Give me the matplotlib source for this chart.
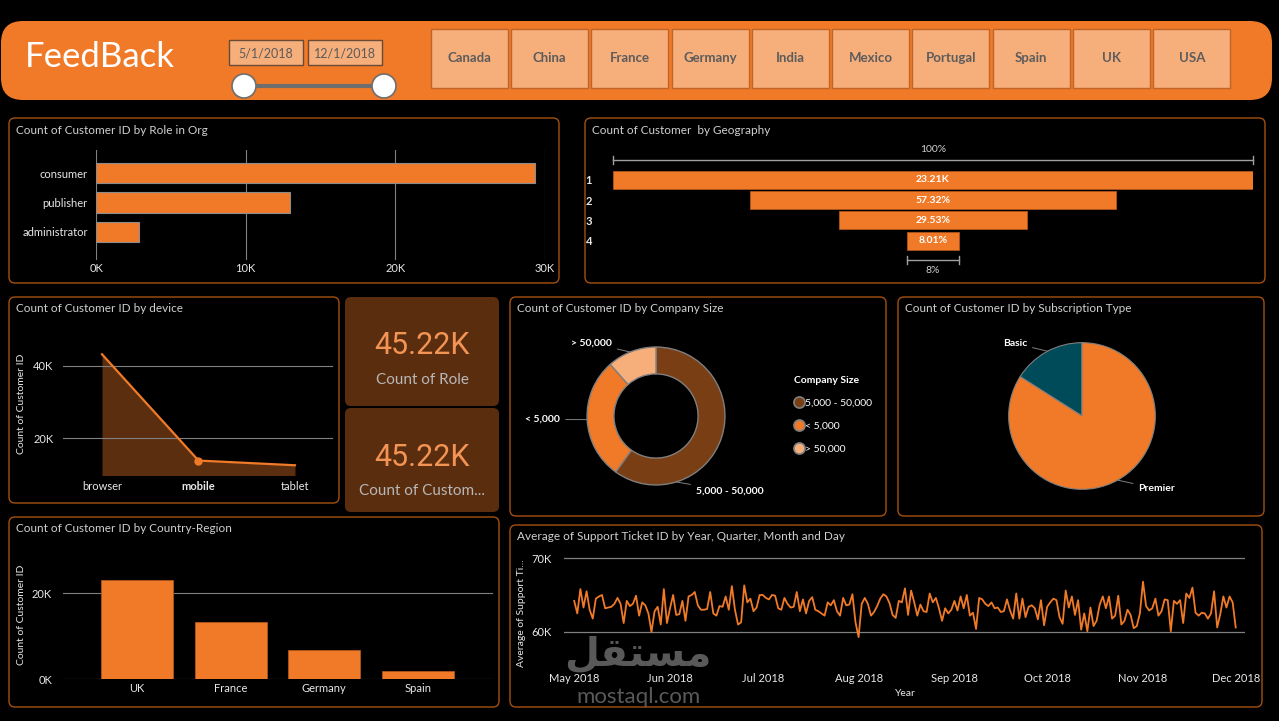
# Tableau de bord "FeedBack" recréé avec matplotlib
import numpy as np
import pandas as pd
import matplotlib
matplotlib.use('Agg')
import matplotlib.pyplot as plt
import matplotlib.dates as mdates
from matplotlib.patches import FancyBboxPatch, Circle
from matplotlib.lines import Line2D

plt.rcParams['font.family'] = ['Lato', 'DejaVu Sans']

# Données du tableau de bord
pays = ['Canada', 'China', 'France', 'Germany', 'India', 'Mexico', 'Portugal', 'Spain', 'UK', 'USA']
date_debut, date_fin = '5/1/2018', '12/1/2018'

roles = ['consumer', 'publisher', 'administrator']
roles_nb = [29350, 12980, 2890]

geo_etapes = ['1', '2', '3', '4']
geo_nb = [23210, 13304, 6854, 1859]

appareils = ['browser', 'mobile', 'tablet']
appareils_nb = [43250, 13800, 12500]

kpi_valeurs = ['45.22K', '45.22K']
kpi_noms = ['Count of Role', 'Count of Custom...']

tailles = ['5,000 - 50,000', '< 5,000', '> 50,000']
tailles_nb = [27100, 12900, 5220]

abonnements = ['Basic', 'Premier']
abonnements_nb = [7230, 37990]

regions = ['UK', 'France', 'Germany', 'Spain']
regions_nb = [23210, 13300, 6850, 1860]

# Moyenne des tickets par jour (en milliers), du 1er mai au 1er décembre 2018
tickets_k = [
    64.2, 62.5, 65.8, 63.3, 65.5, 63.0, 61.8, 64.5, 64.8, 65.0,
    63.2, 63.3, 63.4, 63.8, 64.6, 63.8, 61.2, 64.2, 63.5, 63.8,
    64.9, 62.2, 64.0, 63.6, 62.5, 60.0, 62.8, 63.4, 61.0, 65.8, 61.2,
    63.2, 65.0, 62.3, 62.4, 64.2, 61.5, 64.8, 65.0, 65.4, 63.6,
    63.0, 63.0, 63.1, 65.4, 62.5, 62.2, 63.5, 63.4, 64.8, 63.0,
    66.2, 63.0, 61.0, 61.3, 66.3, 64.0, 64.5, 62.8, 63.3, 65.0,
    65.0, 64.6, 64.4, 65.0, 64.9, 63.2, 63.0, 64.6, 63.8, 63.3,
    63.4, 65.4, 62.8, 64.4, 62.5, 64.2, 64.7, 63.0, 62.8, 62.5,
    62.2, 64.0, 63.6, 64.3, 62.8, 62.2, 64.6, 63.6, 63.7, 65.1, 61.3,
    59.3, 63.8, 64.6, 63.8, 62.2, 62.7, 63.5, 64.5, 65.1, 64.8,
    63.9, 62.3, 61.9, 64.2, 64.0, 65.9, 62.3, 65.6, 64.0, 62.2,
    63.7, 62.8, 62.7, 65.2, 64.0, 64.6, 63.2, 61.5, 63.2, 62.5, 63.0,
    64.2, 62.9, 64.8, 63.2, 65.0, 62.2, 62.6, 60.4, 64.6, 64.4,
    63.8, 63.5, 64.0, 63.2, 63.3, 62.7, 62.8, 64.4, 62.9, 61.8,
    65.2, 61.8, 64.5, 62.0, 63.4, 63.6, 63.2, 61.7, 64.3, 60.9,
    63.4, 64.0, 64.5, 64.3, 62.0, 61.1, 65.6, 63.3, 64.8, 62.3,
    64.3, 60.3, 62.5, 60.1, 63.3, 60.8, 61.5, 63.7, 64.8, 63.2,
    64.8, 61.8, 62.2, 64.9, 61.0, 61.5, 63.0, 62.3, 60.5, 60.8, 62.5,
    66.8, 63.5, 62.9, 63.2, 64.5, 62.2, 62.8, 64.4, 64.3, 60.1,
    64.2, 63.8, 64.3, 61.2, 65.2, 64.6, 66.0, 62.6, 62.2, 62.6,
    62.5, 61.8, 62.5, 65.5, 60.6, 62.4, 64.8, 63.3, 64.8, 64.0,
    60.6,
]

# Couleurs
ORANGE = '#F07A28'
PECHE = '#F6AE7B'
BRUN = '#7A3E15'
CARTE = '#5B2D0F'
BORD = '#A4500F'
TITRE = '#D0D0D0'
TEXTE = '#E8E8E8'
GRILLE = '#808080'

W, H = 1279, 721
fig = plt.figure(figsize=(W / 100, H / 100), dpi=100, facecolor='black')

# Axe de fond en pixels pour les cadres et les textes
bg = fig.add_axes([0, 0, 1, 1])
bg.set_xlim(0, W)
bg.set_ylim(H, 0)
bg.axis('off')
bg.set_facecolor('black')


def ax_px(x0, y0, x1, y1):
    a = fig.add_axes([x0 / W, 1 - y1 / H, (x1 - x0) / W, (y1 - y0) / H])
    a.set_facecolor('none')
    for s in a.spines.values():
        s.set_visible(False)
    return a


def panneau(x0, y0, x1, y1, titre):
    bg.add_patch(FancyBboxPatch((x0, y0), x1 - x0, y1 - y0,
                                boxstyle='round,pad=0,rounding_size=6',
                                fc='black', ec=BORD, lw=1))
    bg.text(x0 + 7, y0 + 12, titre, color=TITRE, fontsize=8.5, va='center')


# En-tête orange
bg.add_patch(FancyBboxPatch((1, 21), 1271, 79, boxstyle='round,pad=0,rounding_size=22',
                            fc=ORANGE, ec='none'))
bg.text(25, 57, 'FeedBack', color='white', fontsize=25, va='center', ha='left')

# Sélecteur de dates
for x0, txt in [(229, date_debut), (308, date_fin)]:
    bg.add_patch(plt.Rectangle((x0, 40), 74, 25, fc=PECHE, ec='#6B4A35', lw=1))
    bg.text(x0 + 37, 53, txt, color='#5A5A5A', fontsize=9, ha='center', va='center')
bg.plot([244, 384], [86, 86], color='#6E6E6E', lw=3, zorder=3)
for cx in [244, 384]:
    bg.add_patch(Circle((cx, 86), 12, fc='white', ec='#6E6E6E', lw=1.2, zorder=4))

# Boutons des pays
for i, p in enumerate(pays):
    x0 = 430.6 + i * 80.3
    bg.add_patch(plt.Rectangle((x0, 28.5), 77, 59.5, fc=PECHE, ec='#C0642A', lw=1))
    bg.text(x0 + 38.5, 58, p, color='#5C5C5C', fontsize=9.5, fontweight='bold',
            ha='center', va='center')

# Cadres des visuels
panneau(9, 118, 559, 283, 'Count of Customer ID by Role in Org')
panneau(585, 118, 1265, 283, 'Count of Customer  by Geography')
panneau(9, 297, 339, 503, 'Count of Customer ID by device')
panneau(510, 297, 886, 516, 'Count of Customer ID by Company Size')
panneau(898, 297, 1264, 516, 'Count of Customer ID by Subscription Type')
panneau(9, 517, 499, 707, 'Count of Customer ID by Country-Region')
panneau(510, 525, 1262, 707, 'Average of Support Ticket ID by Year, Quarter, Month and Day')

# --- Rôle dans l'organisation (barres horizontales)
ax = ax_px(96, 150, 545, 260)
y = np.arange(len(roles))
ax.barh(y, roles_nb, height=0.71, color=ORANGE, edgecolor='#8C8C8C', lw=0.8, zorder=3)
ax.set_xlim(0, 30000)
ax.set_ylim(2.95, -0.78)
ax.set_xticks([0, 10000, 20000, 30000], ['0K', '10K', '20K', '30K'])
ax.set_yticks(y, roles)
ax.grid(axis='x', color=GRILLE, lw=0.8)
ax.tick_params(length=0, colors=TEXTE, labelsize=8)
ax.tick_params(axis='x', pad=2)
ax.tick_params(axis='y', pad=6)

# --- Géographie (entonnoir)
ax = ax_px(613, 140, 1253, 280)
y = np.arange(len(geo_nb))
g = np.array(geo_nb)
ax.barh(y, g, left=-g / 2, height=0.89, color=ORANGE, edgecolor='#B0551A', lw=0.6)
ax.set_xlim(-g[0] / 2, g[0] / 2)
ax.set_ylim(4.95, -1.98)
etiquettes = ['%.2fK' % (g[0] / 1000)] + ['%.2f%%' % (v / g[0] * 100) for v in g[1:]]
for yi, t in zip(y, etiquettes):
    ax.text(0, yi, t, color='white', fontsize=7.5, fontweight='bold', ha='center', va='center')
for largeur, yb, yt, txt in [(g[0], -0.99, -1.53, '100%'), (g[-1], 3.96, 4.5, '%d%%' % round(g[-1] / g[0] * 100))]:
    ax.plot([-largeur / 2, largeur / 2], [yb, yb], color='#A0A0A0', lw=1, clip_on=False)
    for xe in [-largeur / 2, largeur / 2]:
        ax.plot([xe, xe], [yb - 0.22, yb + 0.22], color='#A0A0A0', lw=1, clip_on=False)
    ax.text(0, yt, txt, color=TITRE, fontsize=7.5, ha='center', va='center')
ax.set_xticks([])
ax.set_yticks(y, geo_etapes)
ax.tick_params(length=0, colors=TEXTE, labelsize=8, pad=15)
for lab in ax.get_yticklabels():
    lab.set_fontweight('bold')

# --- Appareils (aire)
ax = ax_px(63, 340, 333, 475)
x = np.arange(len(appareils))
ax.fill_between(x, appareils_nb, 0, color='#5C2E10', lw=0)
ax.plot(x, appareils_nb, color=ORANGE, lw=1.6)
ax.plot(x[1], appareils_nb[1], 'o', color=ORANGE, ms=5)
ax.set_xlim(-0.404, 2.394)
ax.set_ylim(9800, 47200)
ax.set_yticks([20000, 40000], ['20K', '40K'])
ax.set_xticks(x, appareils)
ax.get_xticklabels()[1].set_fontweight('bold')
ax.grid(axis='y', color=GRILLE, lw=0.8)
ax.tick_params(length=0, colors=TEXTE, labelsize=8)
ax.tick_params(axis='x', pad=4)
ax.tick_params(axis='y', pad=7)
bg.text(22, 404, 'Count of Customer ID', rotation=90, color=TEXTE, fontsize=7.5,
        ha='center', va='center')

# --- Cartes KPI
for (y0, y1), val, nom in zip([(297, 406), (408, 512)], kpi_valeurs, kpi_noms):
    bg.add_patch(FancyBboxPatch((345, y0), 154, y1 - y0, boxstyle='round,pad=0,rounding_size=6',
                                fc=CARTE, ec='none'))
    bg.text(422, y0 + 49, val, color='#F39455', fontsize=22, ha='center', va='center',
            family=['Roboto', 'DejaVu Sans'])
    bg.text(422, y0 + 83, nom, color='#B8B8B8', fontsize=11, ha='center', va='center')

# --- Taille d'entreprise (anneau)
ax = ax_px(556, 316, 756, 516)
couleurs_tailles = [BRUN, ORANGE, PECHE]
ax.pie(tailles_nb, colors=couleurs_tailles, startangle=90, counterclock=False, radius=1,
       wedgeprops=dict(width=0.39, edgecolor='#7F7F7F', linewidth=1))
ax.set_xlim(-1.45, 1.45)
ax.set_ylim(-1.45, 1.45)
pos_txt = [(0.58, -1.09, 'left'), (-1.39, -0.05, 'right'), (-0.64, 1.06, 'right')]
angles = [-73, 183, 112]
for nom, (tx, ty, ha), a in zip(tailles, pos_txt, angles):
    r = np.deg2rad(a)
    ax.annotate(nom, xy=(np.cos(r), np.sin(r)), xytext=(tx, ty), ha=ha, va='center',
                color='white', fontsize=7.5, fontweight='bold',
                arrowprops=dict(arrowstyle='-', color='#7F7F7F', lw=0.7,
                                shrinkA=2, shrinkB=0))
poignees = [Line2D([], [], marker='o', ls='none', ms=8, mfc=c, mec='#808080', mew=1.2)
            for c in couleurs_tailles]
leg = ax.legend(poignees, tailles, title='Company Size', loc='upper left',
                bbox_to_anchor=(789 / W, 1 - 371 / H), bbox_transform=fig.transFigure,
                frameon=False, fontsize=7.5, labelcolor='white', handletextpad=0.05,
                handlelength=1.0, borderpad=0, labelspacing=1.3, alignment='left')
leg.get_title().set_color('white')
leg.get_title().set_fontweight('bold')
leg.get_title().set_fontsize(7.5)

# --- Type d'abonnement (camembert)
ax = ax_px(972, 306, 1192, 526)
ax.pie(abonnements_nb, colors=['#004B5A', ORANGE], startangle=90, counterclock=True, radius=1,
       wedgeprops=dict(edgecolor='#7F7F7F', linewidth=0.8))
ax.set_xlim(-1.5, 1.5)
ax.set_ylim(-1.5, 1.5)
for nom, (tx, ty, ha), a in zip(abonnements, [(-0.75, 0.99, 'right'), (0.77, -0.99, 'left')], [118, -61]):
    r = np.deg2rad(a)
    ax.annotate(nom, xy=(np.cos(r), np.sin(r)), xytext=(tx, ty), ha=ha, va='center',
                color='white', fontsize=7.5, fontweight='bold',
                arrowprops=dict(arrowstyle='-', color='#7F7F7F', lw=0.7,
                                shrinkA=2, shrinkB=0))

# --- Pays / région (colonnes)
ax = ax_px(63, 555, 493, 679)
x = np.arange(len(regions))
ax.bar(x, regions_nb, width=0.77, color=ORANGE, edgecolor='#B0551A', lw=0.6, zorder=3)
ax.set_xlim(-0.79, 3.8)
ax.set_ylim(0, 124 / 4.285 * 1000)
ax.set_yticks([0, 20000], ['0K', '20K'])
ax.set_xticks(x, regions)
ax.grid(axis='y', color=GRILLE, lw=0.8)
ax.tick_params(length=0, colors=TEXTE, labelsize=8)
ax.tick_params(axis='x', pad=3)
ax.tick_params(axis='y', pad=8)
bg.text(22, 615, 'Count of Customer ID', rotation=90, color=TEXTE, fontsize=7.5,
        ha='center', va='center')

# --- Moyenne des tickets (série temporelle)
ax = ax_px(564, 545, 1245, 665)
dates = pd.date_range('2018-05-01', periods=len(tickets_k), freq='D')
ax.plot(dates, np.array(tickets_k) * 1000, color=ORANGE, lw=1.3, zorder=3)
ax.set_xlim(pd.Timestamp('2018-05-01') - pd.Timedelta(days=3.3),
            pd.Timestamp('2018-12-01') + pd.Timedelta(days=3.0))
ax.set_ylim(60000 - 33 / 7.37 * 1000, 70000 + 13 / 7.37 * 1000)
ax.set_yticks([60000, 70000], ['60K', '70K'])
ax.set_xticks(pd.date_range('2018-05-01', '2018-12-01', freq='MS'))
ax.xaxis.set_major_formatter(mdates.DateFormatter('%b %Y'))
ax.grid(axis='y', color=GRILLE, lw=0.9)
ax.tick_params(length=0, colors=TEXTE, labelsize=8)
ax.tick_params(axis='x', pad=6)
ax.tick_params(axis='y', pad=9)
bg.text(905, 694, 'Year', color=TEXTE, fontsize=7.5, ha='center', va='center')
bg.text(522, 613, 'Average of Support Ti...', rotation=90, color=TEXTE, fontsize=7.5,
        ha='center', va='center')

# Filigrane
fig.text(638 / W, 1 - 655 / H, '\uFEDE\uFED8\uFE98\uFEB4\uFEE3', color='#6A6A6A', alpha=0.85,
         fontsize=29, fontweight='bold', ha='center', va='center', family='DejaVu Sans', zorder=10)
fig.text(638 / W, 1 - 697 / H, 'mostaql.com', color='#6A6A6A', alpha=0.85,
         fontsize=16, ha='center', va='center', zorder=10)

fig.savefig('out.png', dpi=100, facecolor='black')
